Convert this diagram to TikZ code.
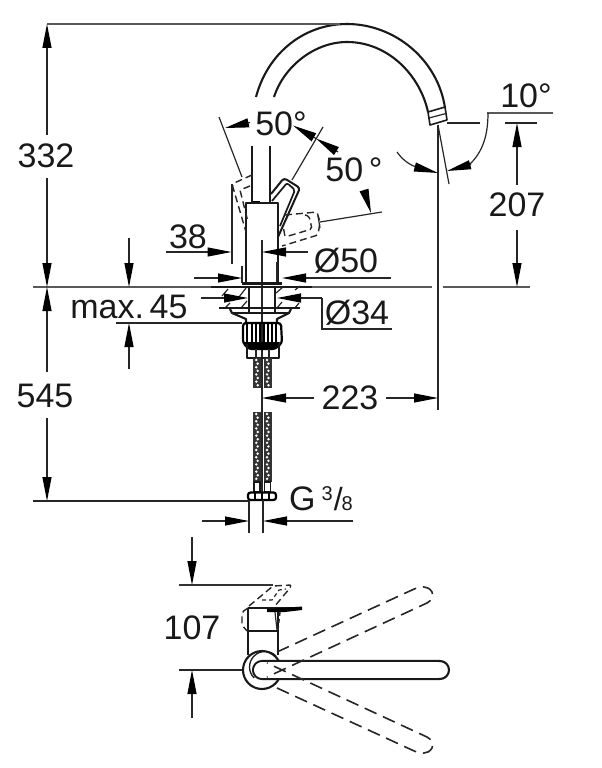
\documentclass[tikz,border=0pt]{standalone}
\usepackage{fontspec}
\setmainfont{Liberation Sans}
\usetikzlibrary{arrows.meta}
\tikzset{
  thinl/.style={line width=1.2pt,draw=black!85},
  grayl/.style={line width=1.6pt,draw=black!65},
  part/.style={line width=2.1pt,draw=black!90,line join=round},
  dash1/.style={line width=1.4pt,draw=black!85,dash pattern=on 7pt off 4pt},
  dash2/.style={line width=1.6pt,draw=black!85,dash pattern=on 13pt off 7pt},
  dim/.style={thinl,-{Triangle[length=24pt,width=9pt,black]}},
  lab/.style={font=\fontsize{34}{34}\selectfont,inner sep=0pt,text=black!90},
  nutl/.style={line width=2pt,draw=black}
}
\newcommand{\hosepart}[4]{% x1 x2 y1 y2
  \fill[black!80] (#1,#3) rectangle (#2,#4);
  \pgfmathsetmacro{\hmx}{(#1+#2)/2}
  \pgfmathtruncatemacro{\hcount}{(#4-#3)/3.6-1}
  \foreach \hi in {0,...,\hcount}{
    \pgfmathsetmacro{\hy}{#3+2+3.6*\hi}
    \pgfmathsetmacro{\hxx}{\hmx+(mod(\hi,2)-0.5)*1.4}
    \fill[white] (\hxx,\hy) circle (1.35);
  }
}
\begin{document}
\begin{tikzpicture}[x=1pt,y=-1pt]
\useasboundingbox (0,0) rectangle (602,768);
% spout
\draw[part] (256,97) .. controls (268,52) and (305,24) .. (347,24) .. controls (395,24) and (438,60) .. (445,108);
\draw[part] (274,97) .. controls (284,66) and (315,42) .. (347,42) .. controls (388,42) and (420,75) .. (428,112);
\draw[part,line width=1.6pt] (428,112) -- (445,107) -- (447,120) -- (430,125) -- cycle;
\draw[thinl] (429,118) -- (446,113.5);
% long dim lines
\draw[grayl] (47,24) -- (340,24);
\draw[grayl] (33,287) -- (432,287);
\draw[grayl] (443,287) -- (530,287);
\draw[dim] (47,135) -- (47,24);
\draw[dim] (47,178) -- (47,287);
\draw[dim] (47,372) -- (47,287);
\draw[dim] (47,418) -- (47,501);
\draw[thinl] (33,501) -- (249,501);
\node[lab] (t332) at (46,156) {332};
\node[lab] (t545) at (45,396) {545};
% riser
\draw[part] (252,146) -- (252,203);
\draw[part] (270,146) -- (270,203);
\fill[black] (253,201) rectangle (260,204);
\draw[part] (246,282) -- (246,203) -- (278,203) -- (278,282);
\draw[thinl] (262,240) -- (262,412);
% solid lever
\draw[part,line width=2pt,rounded corners=3pt] (271,194) -- (284,178) -- (300,188) -- (278,237);
\draw[part,line width=1.7pt,rounded corners=2pt] (272,201) -- (287,183) -- (295,190) -- (280,226);
% dashed levers
\draw[dash1,rounded corners=2pt] (252,175) -- (232,184) -- (246,232);
\draw[dash1,rounded corners=1pt] (250,186) -- (240,190) -- (248,222);
\draw[dash1,rounded corners=2pt] (285,215) -- (317,212) -- (320,222) -- (318,235) -- (282,246);
\draw[dash1,rounded corners=2pt] (305,215) -- (309,216) -- (312,229) -- (285,237) -- (283,225);
\draw[thinl] (320,222) -- (382,212);
\draw[thinl] (318,216) -- (320,228);
% 50 deg
\draw[thinl] (219,117) -- (242,177);
\draw[thinl] (323,127) -- (292,180);
\draw[thinl] (232,184) -- (232,264);
\draw[dim] (250,122.5) -- (225,128);
\draw[dim] (316,138.5) -- (293,125.5);
\draw[dim] (338,152) -- (316,138.5);
\draw[dim] (364,190) -- (371,213);
\node[lab] (t50a) at (281,124) {50°};
\node[lab] (t50b) at (354,170) {50\,°};
% 38 / diameter 50
\node[lab] (t38) at (188,237) {38};
\draw[dim] (166,252) -- (231.5,252);
\draw[dim] (308,252) -- (262,252);
\node[lab] (td50) at (346,261) {Ø50};
\draw[thinl] (242,266) -- (242,283);
\draw[thinl] (277,262) -- (277,283);
\draw[dim] (194,278) -- (242,278);
\draw[dim] (391,278) -- (282,278);
% base
\draw[part] (242,283.5) -- (282,283.5);
\draw[part] (211,287) -- (312,287);
\draw[part] (249,287) -- (249,312);
\draw[part] (275,287) -- (275,312);
\foreach \hx/\hya/\hxb/\hyb in {222/296/228/289,239/297/246/288,276/293/283/287,295/290/300/286,
   225/308/230/303,241/308/247/301,277/308/282/302,295/308/299/303}{
  \draw[thinl] (\hx,\hya) -- (\hxb,\hyb);
}
\draw[part] (219,308) -- (300,308);
\draw[part] (230,309) -- (232,313) -- (246,319) -- (246,323);
\draw[part] (291,309) -- (289,313) -- (277,319) -- (277,323);
\draw[part] (232,313) -- (290,313);
% diameter 34
\draw[dim] (201,298) -- (248,298);
\draw[thinl] (322,298) -- (322,329) -- (392,329);
\draw[dim] (322,298) -- (277,298);
\node[lab] (td34) at (357,313) {Ø34};
% max 45
\node[lab] (tmax) at (129,307) {max.\,45};
\draw[dim] (129,238) -- (129,287);
\draw[dim] (129,369) -- (129,323);
\draw[thinl] (116,323) -- (242,323);
% nut
\draw[nutl,rounded corners=3pt,line width=2.2pt] (243,323) -- (281,323) -- (282,343) -- (275,349) -- (249,349) -- (243,343) -- cycle;
\foreach \nx in {247,252,256,260,264,268,272,276}{\draw[line width=1.8pt,black] (\nx,323) -- (\nx,345);}
\fill[black] (244,342) -- (280,342) -- (276,349) -- (248,349) -- cycle;
\draw[part] (247,344) -- (247,358) -- (279,358) -- (279,344);
\draw[thinl] (256,349) -- (256,358);
\draw[thinl] (269,349) -- (269,358);
% hoses
\hosepart{253}{261}{358}{388}
\hosepart{263.5}{272}{358}{388}
\hosepart{253}{261}{412}{482}
\hosepart{263.5}{272}{412}{482}
\draw[thinl] (262,412) -- (262,492);
\draw[part,line width=1.3pt] (254,482) rectangle (260,492);
\draw[part,line width=1.3pt] (264.5,482) rectangle (270.5,492);
\draw[black,line width=2.2pt,rounded corners=2.5pt,fill=white] (248,492.5) rectangle (276,500);
\foreach \nx in {255,262,269}{\draw[black,line width=1.6pt] (\nx,492.5) -- (\nx,500);}
% 223
\node[lab] (t223) at (350,398) {223};
\draw[dim] (314,398) -- (262,398);
\draw[dim] (386,398) -- (438,398);
\draw[line width=1.7pt,black!85] (438,125) -- (438,410);
% 10 deg
\draw[thinl] (438,125) -- (449,184);
\draw[thinl] (447,123) -- (480,123);
\draw[grayl] (487,113) -- (553,113);
\draw[thinl] (488,113) .. controls (488,135) and (483,152) .. (469,165);
\draw[dim] (471,164.5) -- (447,171);
\draw[thinl] (397,152) .. controls (402,159) and (408,164) .. (416,167);
\draw[dim] (415,167) -- (438,173);
\node[lab] (t10) at (526,96) {10°};
% 207
\draw[thinl] (505,123) -- (537,123);
\draw[dim] (517,185) -- (517,123);
\draw[dim] (517,230) -- (517,287);
\node[lab] (t207) at (517,205) {207};
% G 3/8
\draw[thinl] (249,500) -- (249,533);
\draw[thinl] (263,500) -- (263,533);
\draw[dim] (202,521) -- (249,521);
\draw[dim] (353,521) -- (263,521);
\node[lab,anchor=base west] (tg) at (289,510) {G\hspace{6pt}{\fontsize{20}{20}\selectfont\raisebox{10pt}{3}\hspace{2pt}{\fontsize{32}{32}\selectfont\kern-1pt/\kern-1pt}{\fontsize{20}{20}\selectfont 8}}};
% 107
\draw[dim] (192,537) -- (192,585);
\draw[thinl,draw=black!80] (179,585) -- (273,585);
\draw[dim] (192,718) -- (192,670);
\draw[thinl] (179,670) -- (243,670);
\node[lab] (t107) at (192,628) {107};
% top view
\draw[part] (248,608) -- (248,655);
\draw[part] (278,608) -- (278,655);
\draw[part,line width=2.6pt] (248,631) -- (278,631);
\draw[part] (248,608) -- (302,608);
\fill[black] (267,609) -- (302,606.5) -- (302,610) -- (285,612) -- (267,612) -- cycle;
\draw[dash1,rounded corners=2pt] (248,608) -- (242,612) -- (242,625) -- (247,631);
\draw[dash1,rounded corners=1pt] (249,606) -- (273,586) -- (291,585) -- (290,588) -- (274,607);
\draw[dash1,line width=1.2pt,dash pattern=on 4pt off 3pt] (262,600) -- (272,600) -- (279,590) -- (286,589);
\draw[thinl] (275,612) -- (277,630);
\draw[dash1,dash pattern=on 4pt off 3pt] (280,612) -- (278,630);
% dial
\fill[white] (262,670) circle (19);
\draw[part] (262,670) circle (19);
\draw[part,line width=1.3pt] (276,656) arc (-45:-225:15.5);
\draw[part] (440,661) arc (-90:90:9) -- (262,679) arc (90:270:9) -- cycle;
\fill[white] (275,662.2) rectangle (438,677.8);
\fill[white] (262,662.2) -- (275,662.2) -- (275,677.8) -- (262,677.8) arc (90:270:7.8) -- cycle;
% dashed handles
\draw[dash2] (277,652) -- (412,590) .. controls (420,586) and (428,585) .. (432,592) .. controls (434,597) and (432,600) .. (427,603) -- (267,677);
\draw[dash2] (277,688) -- (412,750) .. controls (420,754) and (428,755) .. (432,748) .. controls (434,743) and (432,740) .. (427,737) -- (267,663);
\end{tikzpicture}
\end{document}
